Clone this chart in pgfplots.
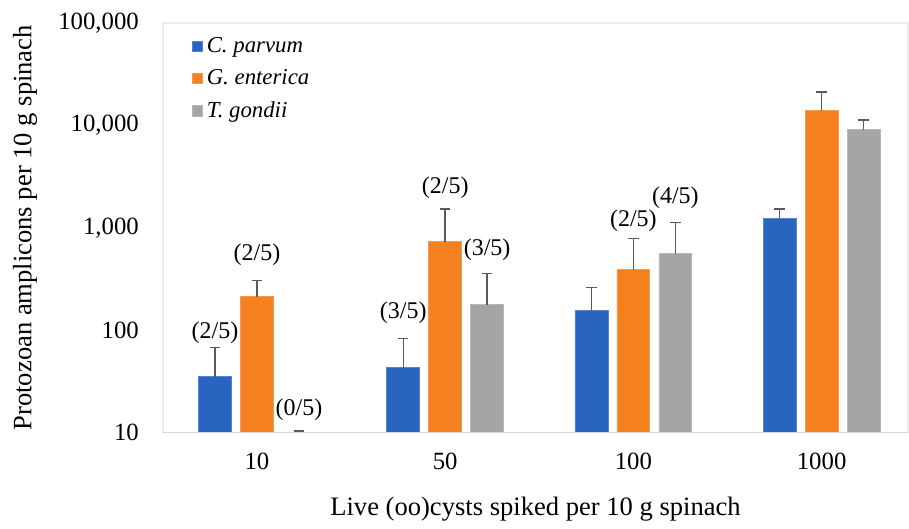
\documentclass[border=0pt]{standalone}
\usepackage{pgfplots}
\pgfplotsset{compat=1.18}
\usepackage{fontspec}
\setmainfont{Liberation Serif}
\definecolor{cpblue}{RGB}{41,101,190}
\definecolor{georange}{RGB}{245,128,32}
\definecolor{tggray}{RGB}{165,165,165}
\definecolor{errgray}{RGB}{90,90,90}
\definecolor{framegray}{RGB}{235,235,235}
\definecolor{basegray}{RGB}{215,215,215}
\begin{document}
\begin{tikzpicture}
\begin{axis}[
  scale only axis, width=373pt, height=205pt,
  ymode=log, ymin=10, ymax=100000, log origin=infty,
  xmin=-0.5, xmax=3.46,
  xtick={0,1,2,3}, xticklabels={10,50,100,1000},
  ytick={10,100,1000,10000,100000},
  yticklabels={10,100,{1,000},{10,000},{100,000}},
  minor ytick={}, 
  major tick length=0pt, minor tick length=0pt,
  axis line style={draw=framegray, line width=0.8pt},
  tick label style={font=\fontsize{12.4}{14}\selectfont},
  /pgf/number format/assume math mode=true,
  yticklabel style={xshift=-8.5pt},
  xticklabel style={yshift=-6.5pt},
  label style={font=\fontsize{13.3}{15}\selectfont},
  xlabel={Live (oo)cysts spiked per 10 g spinach},
  ylabel={Protozoan amplicons per 10 g spinach},
  xlabel style={at={(axis description cs:0.5,-0.188)}, anchor=center},
  ylabel style={at={(axis description cs:-0.185,0.5)}, anchor=center},
  legend style={draw=none, fill=none, at={(axis description cs:0.03,0.985)}, anchor=north west,
    font=\fontsize{11.4}{13}\selectfont\itshape, row sep=3pt},
  legend cell align=left,
  legend image code/.code={\fill[#1] (0pt,-2.6pt) rectangle (5.2pt,2.6pt);},
  clip=false,
  error bars/y dir=plus, error bars/y explicit,
  error bars/error bar style={color=errgray, line width=0.7pt},
  error bars/error mark options={rotate=90, mark size=2.6pt, color=errgray, line width=0.7pt},
]
\addplot[ybar, bar width=0.175, bar shift=0, fill=cpblue, draw=cpblue!80!white, line width=0.4pt]
  coordinates {(-0.223,35.1) +- (0,32.4) (0.777,43) +- (0,39.6) (1.777,155) +- (0,105) (2.777,1225) +- (0,306)};
\addlegendentry{C. parvum}
\addplot[ybar, bar width=0.175, bar shift=0, fill=georange, draw=georange!80!white, line width=0.4pt]
  coordinates {(0,212) +- (0,92) (1,729) +- (0,802) (2,389) +- (0,392) (3,13840) +- (0,7390)};
\addlegendentry{G. enterica}
\addplot[ybar, bar width=0.175, bar shift=0, fill=tggray, draw=tggray!80!white, line width=0.4pt]
  coordinates {(0.223,10.05) +- (0,0.35) (1.223,177) +- (0,179) (2.223,557) +- (0,562) (3.223,9040) +- (0,2280)};
\addlegendentry{T. gondii}
\draw[basegray, line width=0.8pt] (rel axis cs:0,0) -- (rel axis cs:1,0);
\begin{scope}[every node/.style={font=\fontsize{12}{14}\selectfont}]
\node at (axis cs:-0.223,94.6) {(2/5)};
\node at (axis cs:0,546) {(2/5)};
\node at (axis cs:0.223,16.8) {(0/5)};
\node at (axis cs:0.777,148) {(3/5)};
\node at (axis cs:1,2455) {(2/5)};
\node at (axis cs:1.223,610) {(3/5)};
\node at (axis cs:2,1170) {(2/5)};
\node at (axis cs:2.223,1963) {(4/5)};
\end{scope}
\coordinate (bl) at (axis description cs:-0.2185,-0.2195);
\coordinate (tr) at (axis description cs:1,1.056);
\end{axis}
\path (bl) rectangle (tr);
\end{tikzpicture}
\end{document}
